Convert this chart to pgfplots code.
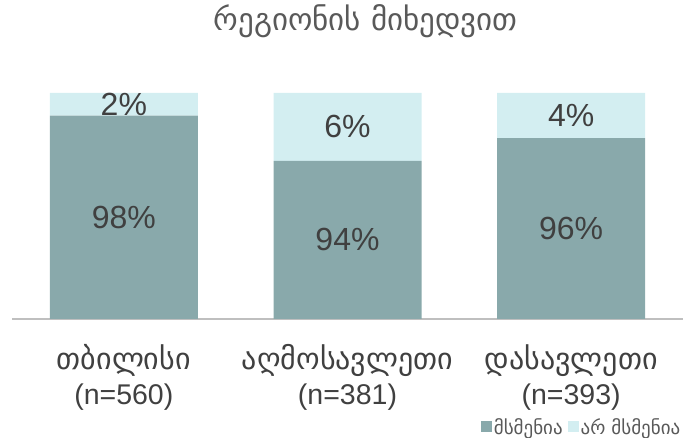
\documentclass[border=0pt]{standalone}
\usepackage{fontspec}
\setmainfont{Liberation Sans}
\newfontfamily\geo{DejaVu Sans}
\usepackage{pgfplots}
\pgfplotsset{compat=1.18}
\definecolor{darkbar}{HTML}{89A9AB}
\definecolor{lightbar}{HTML}{D3EEF1}
\definecolor{txt}{HTML}{404040}
\definecolor{ttl}{HTML}{595959}
\definecolor{axl}{HTML}{BFBFBF}
\begin{document}
\begin{tikzpicture}
\useasboundingbox (0,0) rectangle (693bp,438bp);
\begin{axis}[
  at={(12bp,119bp)}, anchor=south west,
  scale only axis, width=671bp, height=226bp,
  ybar stacked, bar width=148bp,
  xmin=-0.5, xmax=2.5, ymin=80, ymax=100,
  enlargelimits=false,
  xtick={0,1,2},
  xticklabels={{{\geo\fontsize{30bp}{35bp}\selectfont თბილისი}\\(n=560)},{{\geo\fontsize{30bp}{35bp}\selectfont აღმოსავლეთი}\\(n=381)},{{\geo\fontsize{30bp}{35bp}\selectfont დასავლეთი}\\(n=393)}},
  xticklabel style={align=center, text=txt, font=\fontsize{28.5bp}{35bp}\selectfont, yshift=-22bp},
  ytick=\empty,
  major tick length=0pt,
  axis x line*=bottom, axis y line=none,
  axis line style={axl, line width=1.5bp, -},
  title={\geo რეგიონის მიხედვით},
  title style={at={(axis description cs:0.527,1)}, anchor=center, yshift=66bp, font=\fontsize{31bp}{34bp}\selectfont, text=ttl},
  legend style={at={(axis description cs:0.694,-0.42)}, anchor=north west, draw=none, fill=none,
    legend columns=2, font=\fontsize{19bp}{21bp}\selectfont, text=ttl,
    /tikz/every even column/.append style={column sep=3bp}},
  legend image code/.code={\fill[#1] (0bp,-5bp) rectangle (11bp,6bp);},
]
\addplot[fill=darkbar, draw=none] coordinates {(0,98) (1,94) (2,96)};
\addlegendentry{\geo მსმენია}
\addplot[fill=lightbar, draw=none] coordinates {(0,2) (1,6) (2,4)};
\addlegendentry{\geo არ მსმენია}
\end{axis}
\begin{axis}[
  at={(12bp,119bp)}, anchor=south west,
  scale only axis, width=671bp, height=226bp,
  xmin=-0.5, xmax=2.5, ymin=80, ymax=100,
  hide axis,
]
\addplot[draw=none, mark=none, nodes near coords, point meta=explicit symbolic,
  nodes near coords align=center,
  every node near coord/.append style={text=txt, font=\fontsize{32bp}{36bp}\selectfont}]
  coordinates {(0,89) [98\%] (1,87) [94\%] (2,88) [96\%]
               (0,99) [2\%] (1,97) [6\%] (2,98) [4\%]};
\end{axis}
\end{tikzpicture}
\end{document}
